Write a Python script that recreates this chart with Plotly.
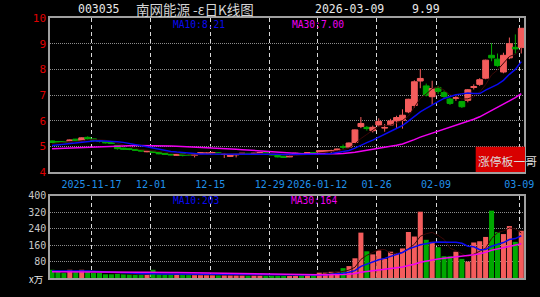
import plotly.graph_objects as go
import pandas as pd

# ---------------- data ----------------
tick_idx = [7, 17, 27, 37, 45, 55, 65, 79]
tick_text = ["2025-11-17", "12-01", "12-15", "12-29", "2026-01-12", "01-26", "02-09", "03-09"]

open_ = [5.22, 5.20, 5.20, 5.19, 5.29, 5.23, 5.36, 5.30, 5.23, 5.19,
         5.16, 5.05, 4.94, 4.92, 4.89, 4.86, 4.80, 4.82, 4.77, 4.73,
         4.70, 4.66, 4.72, 4.69, 4.66, 4.72, 4.73, 4.75, 4.76, 4.70,
         4.62, 4.68, 4.71, 4.74, 4.71, 4.72, 4.76, 4.71, 4.66, 4.63,
         4.60, 4.70, 4.74, 4.73, 4.76, 4.79, 4.80, 4.82, 4.86, 5.00,
         4.98, 5.16, 5.78, 5.75, 5.62, 5.84, 5.72, 5.84, 6.00, 6.02,
         6.35, 6.60, 7.55, 7.36, 6.94, 7.30, 7.10, 6.85, 6.88, 6.75,
         6.80, 7.30, 7.42, 7.66, 8.55, 8.40, 7.90, 8.45, 8.86, 8.85]
high = [5.24, 5.22, 5.21, 5.28, 5.30, 5.36, 5.40, 5.31, 5.26, 5.20,
        5.18, 5.06, 4.96, 4.93, 4.90, 4.88, 4.84, 4.83, 4.78, 4.74,
        4.72, 4.70, 4.73, 4.70, 4.72, 4.78, 4.77, 4.80, 4.78, 4.73,
        4.67, 4.72, 4.75, 4.75, 4.76, 4.79, 4.77, 4.72, 4.67, 4.64,
        4.68, 4.76, 4.75, 4.79, 4.78, 4.86, 4.85, 4.88, 4.92, 5.08,
        5.16, 5.67, 6.15, 5.80, 5.82, 6.10, 5.88, 6.08, 6.20, 6.45,
        6.86, 7.58, 8.02, 7.45, 7.56, 7.36, 7.18, 6.90, 6.98, 6.78,
        7.24, 7.42, 7.66, 8.38, 9.02, 8.62, 8.65, 9.24, 9.36, 9.60]
low = [5.14, 5.16, 5.15, 5.18, 5.20, 5.21, 5.26, 5.20, 5.16, 5.12,
       5.10, 4.88, 4.88, 4.86, 4.84, 4.81, 4.78, 4.75, 4.70, 4.68,
       4.66, 4.64, 4.62, 4.64, 4.58, 4.70, 4.71, 4.72, 4.70, 4.56,
       4.60, 4.58, 4.69, 4.68, 4.69, 4.70, 4.70, 4.66, 4.58, 4.56,
       4.59, 4.68, 4.69, 4.71, 4.72, 4.77, 4.78, 4.74, 4.84, 4.90,
       4.96, 5.14, 5.72, 5.62, 5.55, 5.78, 5.58, 5.80, 5.72, 5.70,
       6.30, 6.50, 7.27, 6.95, 6.62, 7.05, 6.85, 6.62, 6.78, 6.50,
       6.72, 7.22, 7.36, 7.62, 8.32, 8.10, 7.85, 8.40, 8.62, 8.62]
close = [5.16, 5.18, 5.18, 5.26, 5.22, 5.34, 5.30, 5.24, 5.20, 5.15,
         5.12, 4.92, 4.90, 4.89, 4.86, 4.83, 4.82, 4.77, 4.72, 4.70,
         4.68, 4.69, 4.66, 4.67, 4.68, 4.76, 4.75, 4.77, 4.72, 4.71,
         4.66, 4.70, 4.74, 4.70, 4.74, 4.77, 4.72, 4.68, 4.60, 4.58,
         4.66, 4.74, 4.71, 4.77, 4.75, 4.84, 4.84, 4.84, 4.90, 4.98,
         5.14, 5.65, 5.90, 5.70, 5.75, 5.98, 5.74, 6.00, 6.13, 6.22,
         6.84, 7.52, 7.65, 7.00, 7.26, 7.15, 6.95, 6.68, 6.90, 6.55,
         7.21, 7.33, 7.60, 8.36, 8.45, 8.15, 8.55, 9.00, 8.80, 9.60]
volume = [40, 29, 24, 40, 29, 40, 34, 24, 24, 18,
          18, 20, 18, 18, 16, 16, 18, 40, 18, 16,
          16, 16, 16, 16, 16, 18, 18, 16, 14, 14,
          14, 14, 14, 12, 14, 14, 12, 12, 12, 12,
          12, 14, 14, 16, 16, 26, 26, 30, 30, 48,
          58, 96, 221, 130, 115, 134, 94, 128, 122, 144,
          224, 202, 323, 186, 176, 150, 106, 106, 128, 93,
          80, 173, 179, 200, 328, 224, 214, 253, 176, 230]

# sessions before the visible window (only feed the moving averages)
prior_close = [4.85, 4.88, 4.90, 4.92, 4.87, 4.90, 4.93, 4.89, 4.88, 4.88,
               4.84, 4.80, 4.78, 4.82, 4.80, 4.83, 4.85, 4.80, 4.82, 4.86,
               4.90, 4.95, 4.98, 5.02, 5.05, 5.00, 5.06, 5.12, 5.22]
prior_volume = [28, 30, 26, 32, 30, 28, 34, 30, 26, 28,
                30, 32, 28, 26, 30, 34, 28, 30, 32, 28,
                36, 30, 34, 32, 30, 36, 34, 30, 35]

header_code = "003035"
header_name = "南网能源 -ε日K线图"
header_date = "2026-03-09"
header_price = "9.99"
ma_price_labels = ["MA10:8.21", "MA30:7.00"]
ma_vol_labels = ["MA10:203", "MA30:164"]
price_ticks = [4, 5, 6, 7, 8, 9, 10]
vol_ticks = [80, 160, 240, 320, 400]

# ---------------- derived ----------------
n = len(close)
x = list(range(n))
np_ = len(prior_close)
cs = pd.Series(prior_close + close)
vs = pd.Series(prior_volume + volume)
ma5 = cs.rolling(5).mean().iloc[np_:].tolist()
ma10 = cs.rolling(10).mean().iloc[np_:].tolist()
ma30 = cs.rolling(30).mean().iloc[np_:].tolist()
vma5 = vs.rolling(5).mean().iloc[np_:].tolist()
vma10 = vs.rolling(10).mean().iloc[np_:].tolist()
vma30 = vs.rolling(30).mean().iloc[np_:].tolist()

RED = "#f45c5c"
GREEN = "#00a800"
BLUE = "#0a0af0"
MAG = "#f000f0"
DARK = "#3a0808"
vol_colors = [RED if c >= o else GREEN for o, c in zip(open_, close)]

W, H = 540, 297
L, R, T, B = 50, 16, 18, 14
PW = W - L - R
PH = H - T - B


def px(xp):
    return (xp - L) / PW


def py(yp):
    return (H - B - yp) / PH


MONO = "DejaVu Sans Mono"
CJK = "Noto Sans CJK SC"

fig = go.Figure()
fig.add_trace(go.Candlestick(
    x=x, open=open_, high=high, low=low, close=close,
    increasing=dict(line=dict(color=RED, width=1), fillcolor=RED),
    decreasing=dict(line=dict(color=GREEN, width=1), fillcolor=GREEN),
    whiskerwidth=0, xaxis="x", yaxis="y", hoverinfo="skip", showlegend=False))
fig.add_trace(go.Scatter(x=x, y=ma5, mode="lines", line=dict(color=DARK, width=1),
                         xaxis="x", yaxis="y", hoverinfo="skip"))
fig.add_trace(go.Scatter(x=x, y=ma30, mode="lines", line=dict(color=MAG, width=1.5),
                         xaxis="x", yaxis="y", hoverinfo="skip"))
fig.add_trace(go.Scatter(x=x, y=ma10, mode="lines", line=dict(color=BLUE, width=1.5),
                         xaxis="x", yaxis="y", hoverinfo="skip"))

fig.add_trace(go.Bar(x=x, y=volume, marker=dict(color=vol_colors, line=dict(width=0)),
                     xaxis="x2", yaxis="y2", hoverinfo="skip"))
fig.add_trace(go.Scatter(x=x, y=vma5, mode="lines", line=dict(color=DARK, width=1),
                         xaxis="x2", yaxis="y2", hoverinfo="skip"))
fig.add_trace(go.Scatter(x=x, y=vma10, mode="lines", line=dict(color=BLUE, width=1.5),
                         xaxis="x2", yaxis="y2", hoverinfo="skip"))
fig.add_trace(go.Scatter(x=x, y=vma30, mode="lines", line=dict(color=MAG, width=1.5),
                         xaxis="x2", yaxis="y2", hoverinfo="skip"))

xr = [-0.34, 79.46]
tv = [i - 0.35 for i in tick_idx]
common_x = dict(range=xr, tickvals=tv, showgrid=True, gridcolor="#d8d8d8", griddash="4px,3px",
                gridwidth=1, showline=True, mirror=True, linecolor="#a0a0a0", linewidth=1.5,
                zeroline=False, ticks="", fixedrange=True)
common_y = dict(showgrid=True, gridcolor="#8c8c8c", griddash="1px,1px", gridwidth=1,
                showline=True, mirror=True, linecolor="#a0a0a0", linewidth=1.5,
                zeroline=False, ticks="", fixedrange=True)

fig.update_layout(
    width=W, height=H,
    margin=dict(l=L, r=R, t=T, b=B, pad=0),
    paper_bgcolor="black", plot_bgcolor="black",
    showlegend=False, bargap=0.15, boxgap=0.02, boxgroupgap=0,
    xaxis=dict(common_x, domain=[0, 1], anchor="y", ticktext=tick_text,
               tickfont=dict(family=MONO, size=10, color="#2090ea"),
               ticklabelstandoff=2,
               rangeslider=dict(visible=False)),
    yaxis=dict(common_y, domain=[py(175.3), 1], anchor="x", range=[4, 10],
               tickvals=price_ticks, tickfont=dict(family=MONO, size=11, color="#e00000")),
    xaxis2=dict(common_x, domain=[0, 1], anchor="y2", matches="x", showticklabels=False),
    yaxis2=dict(common_y, domain=[0, py(199.3)], anchor="x2", range=[0, 400],
                tickvals=vol_ticks, tickfont=dict(family=MONO, size=10, color="#c8c8c8")),
)


def txt(s, xp, yp, color, size, family=MONO):
    fig.add_annotation(text=s, x=px(xp), y=py(yp), xref="paper", yref="paper",
                       xanchor="left", yanchor="middle", showarrow=False,
                       font=dict(family=family, size=size, color=color), borderpad=0)


txt(header_code, 77, 9, "#e8e8e8", 11.5)
txt(header_name, 135, 8.5, "#d4d4d4", 13.5, CJK)
txt(header_date, 314, 9, "#e8e8e8", 11.5)
txt(header_price, 411, 9, "#e8e8e8", 11.5)
txt(ma_price_labels[0], 172, 24.5, BLUE, 9.6)
txt(ma_price_labels[1], 291, 24.5, MAG, 9.6)
txt(ma_vol_labels[0], 172, 204.5, BLUE, 9.6)
txt(ma_vol_labels[1], 290, 204.5, MAG, 9.6)
txt("x万", 28, 284, "#e8e8e8", 9.5, CJK)

fig.add_shape(type="rect", xref="paper", yref="paper",
              x0=px(475.7), x1=px(525), y0=py(175), y1=py(149.3),
              fillcolor="#d80000", line=dict(width=0), layer="above")
txt("涨停板一哥", 476.5, 163, "#dcdcdc", 11.8, CJK)

fig.write_html("out.html")
